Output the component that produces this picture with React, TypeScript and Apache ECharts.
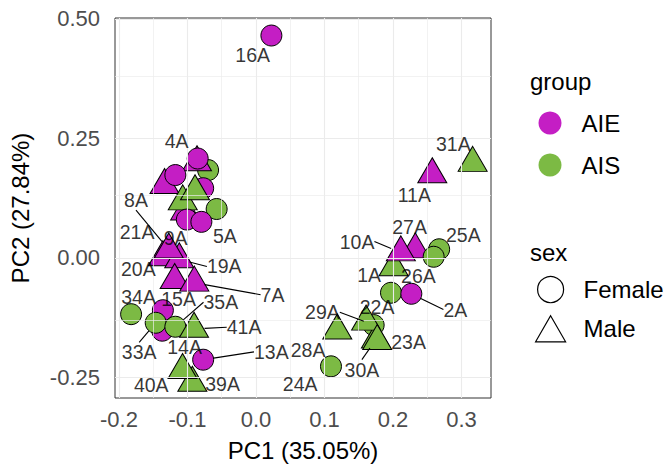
import React, { useEffect, useRef } from "react";
import * as echarts from "echarts";

// ---------- data (drawing order) ----------
const sampleNames = [
  "16A", "31A", "11A", "1A", "27A", "10A", "25A", "", "26A", "2A",
  "29A", "30A", "22A", "23A", "28A", "24A",
  "", "", "4A", "", "", "", "", "", "", "", "9A", "5A",
  "21A", "19A", "8A", "20A", "7A",
  "34A", "15A", "14A", "33A", "35A", "41A", "39A", "40A", "13A",
];
const groups = [
  "AIE", "AIS", "AIE", "AIS", "AIE", "AIE", "AIS", "AIS", "AIS", "AIE",
  "AIS", "AIS", "AIS", "AIS", "AIS", "AIS",
  "AIS", "AIE", "AIE", "AIE", "AIE", "AIE", "AIE", "AIS", "AIS", "AIS", "AIE", "AIE",
  "AIE", "AIE", "AIE", "AIE", "AIE",
  "AIS", "AIE", "AIE", "AIS", "AIS", "AIS", "AIS", "AIS", "AIE",
];
const sexes = [
  "Female", "Male", "Male", "Male", "Male", "Male", "Female", "Female", "Female", "Female",
  "Female", "Male", "Male", "Male", "Male", "Female",
  "Female", "Male", "Female", "Male", "Female", "Female", "Male", "Male", "Male", "Female", "Female", "Female",
  "Male", "Male", "Male", "Male", "Male",
  "Female", "Female", "Female", "Female", "Female", "Male", "Male", "Male", "Female",
];
const pc1 = [
  0.0225, 0.3163, 0.2574, 0.201, 0.2326, 0.2115, 0.2674, 0.2594, 0.1971, 0.2268,
  0.1718, 0.1751, 0.1608, 0.177, 0.1187, 0.1095,
  -0.0699, -0.0861, -0.0851, -0.1335, -0.1177, -0.0771, -0.1034, -0.1069, -0.089, -0.0574, -0.1009, -0.0797,
  -0.1359, -0.112, -0.1273, -0.1187, -0.09,
  -0.1823, -0.1359, -0.1368, -0.1464, -0.1177, -0.0904, -0.0929, -0.1072, -0.0771,
];
const pc2 = [
  0.4653, 0.1983, 0.1746, -0.0201, 0.0172, 0.011, 0.0178, 0.0021, -0.0733, -0.0754,
  -0.1409, -0.1713, -0.134, -0.1746, -0.1527, -0.2273,
  0.1836, 0.1995, 0.2078, 0.1521, 0.1732, 0.1456, 0.0967, 0.1177, 0.1388, 0.1021, 0.08, 0.0752,
  0.0006, -0.0035, 0.0168, -0.047, -0.0524,
  -0.1181, -0.1098, -0.1527, -0.1361, -0.1444, -0.149, -0.2619, -0.2353, -0.2134,
];

const xTicks = [-0.2, -0.1, 0.0, 0.1, 0.2, 0.3];
const yTicks = [-0.25, 0.0, 0.25, 0.5];
const xMinor = [-0.15, -0.05, 0.05, 0.15, 0.25];
const yMinor = [-0.125, 0.125, 0.375];
const xRange = [-0.2058, 0.3431];
const yRange = [-0.2936, 0.502];

const groupLevels = ["AIE", "AIS"];
const sexLevels = ["Female", "Male"];

// label placement (repelled text offsets, px) and which ones have a segment
const labelOffsets: Record<string, [number, number]> = {
  "16A": [-18.7, 19.8], "31A": [-19.3, -19.1], "11A": [-18, 20.7], "27A": [-5.7, -23],
  "10A": [-43.8, -11], "25A": [24.2, -14.2], "26A": [27.4, -16.7], "1A": [-24.5, 7.5],
  "2A": [44, 15.8], "22A": [11, -14.5], "29A": [-51.2, -12.8], "23A": [31.4, 0.4],
  "30A": [-14, 30], "28A": [-29.2, 19.5], "24A": [-30.8, 17.5], "4A": [-21, -17.5],
  "9A": [-11.2, 18.3], "5A": [23.5, 14.5], "21A": [-25.8, -25], "19A": [45, 7],
  "8A": [-32.8, -49.7], "20A": [-36.3, -11.5], "7A": [78.2, 11.9], "34A": [7.5, -16.8],
  "15A": [15.7, -10.8], "14A": [22.3, 16.5], "33A": [-16.5, 29.5], "35A": [45.5, -24.5],
  "41A": [50, -1.7], "39A": [30.2, 0.8], "40A": [-31.3, 14.6], "13A": [68.2, -7.8],
};
const leaderNames = ["10A", "2A", "29A", "30A", "19A", "8A", "7A", "33A", "35A", "41A", "13A"];

const FONT = '"Liberation Sans", Arial, Helvetica, sans-serif';
const COLORS: Record<string, string> = { AIE: "#C41EC4", AIS: "#7CBA44" };
const TRI_W = 29;
const TRI_H = 25;
const CIRC = 21;

export default function App() {
  const ref = useRef<HTMLDivElement>(null);
  useEffect(() => {
    const chart = echarts.init(ref.current!, null, { renderer: "svg" });
    const pts = sampleNames.map((n, i) => ({
      name: n, group: groups[i], sex: sexes[i], x: pc1[i], y: pc2[i],
    }));
    const pointData = pts.map((p) => ({
      value: [p.x, p.y],
      name: p.name,
      symbol: p.sex === "Male" ? "triangle" : "circle",
      symbolSize: p.sex === "Male" ? [TRI_W, TRI_H] : CIRC,
      symbolOffset: p.sex === "Male" ? [0, -TRI_H / 6] : [0, 0],
      itemStyle: { color: COLORS[p.group], borderColor: "#000", borderWidth: 1, opacity: 1 },
    }));
    const labelled = pts.filter((p) => p.name && labelOffsets[p.name]);
    const labelData = labelled.map((p) => ({
      value: [p.x, p.y],
      name: p.name,
      labelLine: { show: leaderNames.includes(p.name) },
    }));

    const gridLines = [
      ...xTicks.map((v) => ({ xAxis: v, lineStyle: { width: 1.1, color: "#EBEBEB", type: "solid" } })),
      ...xMinor.map((v) => ({ xAxis: v, lineStyle: { width: 0.7, color: "#EDEDED", type: "solid" } })),
      ...yTicks.map((v) => ({ yAxis: v, lineStyle: { width: 1.1, color: "#EBEBEB", type: "solid" } })),
      ...yMinor.map((v) => ({ yAxis: v, lineStyle: { width: 0.7, color: "#EDEDED", type: "solid" } })),
    ];

    const option: any = {
      animation: false,
      textStyle: { fontFamily: FONT },
      grid: {
        left: 108.5, right: 666 - 491, top: 18, bottom: 467 - 402,
        show: true, borderColor: "#333333", borderWidth: 1, backgroundColor: "transparent",
        containLabel: false,
      },
      xAxis: {
        type: "value", min: xRange[0], max: xRange[1],
        axisLine: { show: false },
        splitLine: { show: false },
        axisTick: { show: true, length: 6, customValues: xTicks, lineStyle: { color: "#333333", width: 1 } },
        axisLabel: {
          customValues: xTicks, margin: 10, fontSize: 22, color: "#4D4D4D", fontFamily: FONT,
          formatter: (v: number) => v.toFixed(1),
        },
        name: "PC1 (35.05%)", nameLocation: "middle", nameGap: 40,
        nameTextStyle: { fontSize: 24, color: "#000", fontFamily: FONT },
      },
      yAxis: {
        type: "value", min: yRange[0], max: yRange[1],
        axisLine: { show: false },
        splitLine: { show: false },
        axisTick: { show: true, length: 6, customValues: yTicks, lineStyle: { color: "#333333", width: 1 } },
        axisLabel: {
          customValues: yTicks, margin: 15, fontSize: 22, color: "#4D4D4D", fontFamily: FONT,
          formatter: (v: number) => v.toFixed(2),
        },
        name: "PC2 (27.84%)", nameLocation: "middle", nameGap: 83,
        nameTextStyle: { fontSize: 24, color: "#000", fontFamily: FONT },
      },
      legend: [
        {
          orient: "vertical", left: 533.5, top: 106, itemWidth: 23, itemHeight: 23, itemGap: 18,
          selectedMode: false,
          textStyle: { fontSize: 24, color: "#000", fontFamily: FONT, padding: [0, 0, 0, 15] },
          data: groupLevels.map((g) => ({ name: g, icon: "circle", itemStyle: { color: COLORS[g], borderWidth: 0, opacity: 1 } })),
        },
        {
          orient: "vertical", left: 530, top: 271, itemWidth: 30, itemHeight: 26, itemGap: 12,
          selectedMode: false,
          textStyle: { fontSize: 24, color: "#000", fontFamily: FONT, padding: [0, 0, 0, 13] },
          data: sexLevels.map((s) => ({
            name: s,
            icon: s === "Male" ? "path://M15,0 L30,26 L0,26 Z" : "circle",
            itemStyle: { color: "#fff", borderColor: "#000", borderWidth: 1.2, opacity: 1 },
          })),
        },
      ],
      graphic: [
        { type: "text", left: 530, top: 69, style: { text: "group", fontSize: 24, fill: "#000", fontFamily: FONT } },
        { type: "text", left: 530, top: 240, style: { text: "sex", fontSize: 24, fill: "#000", fontFamily: FONT } },
      ],
      series: [
        {
          type: "line", data: [], z: 1, silent: true,
          markLine: { silent: true, symbol: ["none", "none"], label: { show: false }, data: gridLines, animation: false },
        },
        {
          type: "scatter", name: "points", z: 3, silent: true, data: pointData,
          itemStyle: { opacity: 1 },
          emphasis: { disabled: true },
        },
        {
          type: "scatter", name: "labels", z: 5, silent: true, data: labelData,
          symbol: "circle", symbolSize: CIRC,
          itemStyle: { color: "rgba(0,0,0,0)", borderWidth: 0 },
          emphasis: { disabled: true },
          label: {
            show: true, position: "inside", formatter: "{b}", fontSize: 19.5, color: "#000", fontFamily: FONT,
          },
          labelLine: { show: false, lineStyle: { color: "#000", width: 1.1 } },
          labelLayout: (params: any) => {
            const nm = labelData[params.dataIndex].name;
            const o = labelOffsets[nm] || [0, 0];
            return { dx: o[0], dy: o[1] };
          },
        },
        ...groupLevels.map((g) => ({ type: "scatter", name: g, data: [], itemStyle: { color: COLORS[g] } })),
        ...sexLevels.map((s) => ({ type: "scatter", name: s, data: [], itemStyle: { color: "#fff" } })),
      ],
    };
    chart.setOption(option);
    return () => chart.dispose();
  }, []);
  return <div ref={ref} style={{ position: "absolute", left: 0, top: 0, width: 666, height: 467 }} />;
}
